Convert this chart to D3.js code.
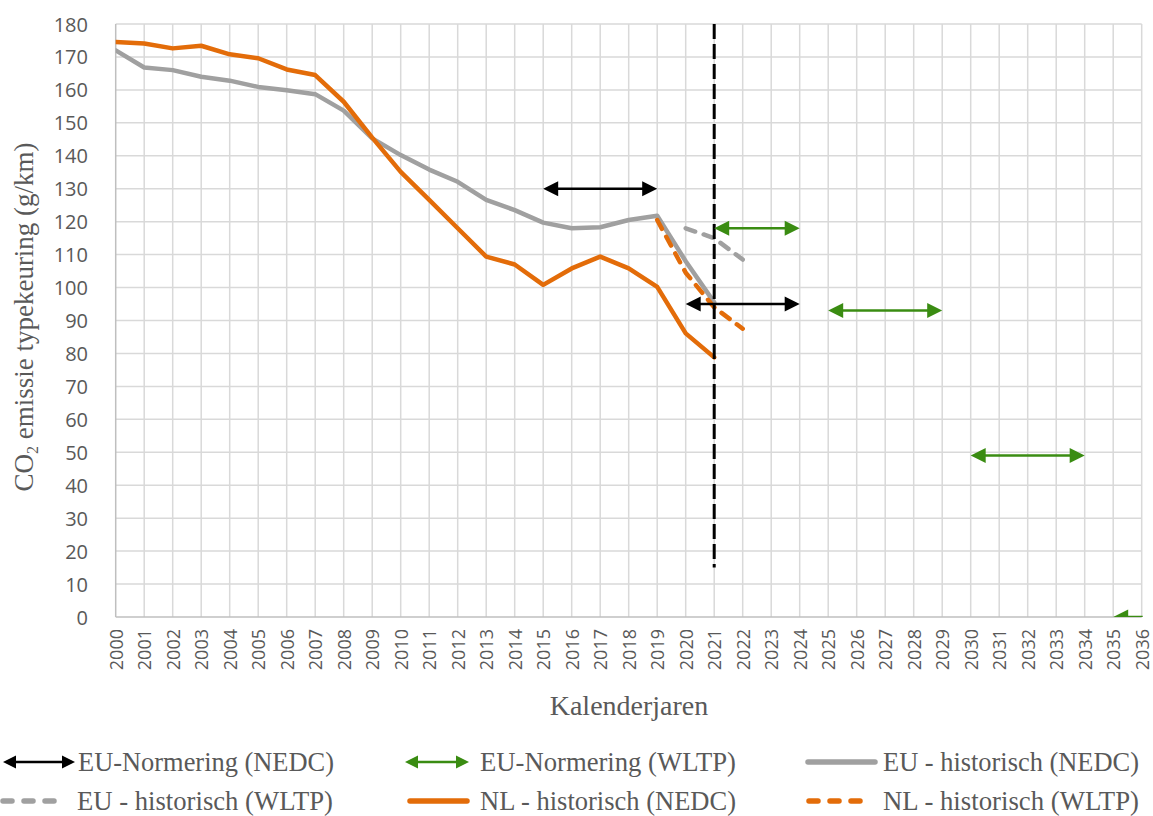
<!DOCTYPE html>
<html>
<head>
<meta charset="utf-8">
<script src="https://cdn.jsdelivr.net/npm/d3@7"></script>
<style>
html,body{margin:0;padding:0;background:#fff;}
svg{display:block;}
</style>
</head>
<body>
<svg id="chart" width="1153" height="816"></svg>
<script>
// ---- data ----
const years = d3.range(2000, 2037);
const yTicks = d3.range(0, 181, 10);

const euNedcYears = d3.range(2000, 2022);
const euNedc = [172, 166.8, 166, 164, 162.8, 160.9, 159.9, 158.7, 153.7, 145.3, 140.2, 135.8, 132.1, 126.6, 123.5, 119.7, 118.0, 118.3, 120.5, 121.8, 108, 95.5];

const nlNedcYears = d3.range(2000, 2022);
const nlNedc = [174.5, 174.1, 172.6, 173.4, 170.8, 169.6, 166.2, 164.5, 156.4, 145.5, 135.1, 126.6, 118.0, 109.4, 107.0, 100.8, 105.8, 109.4, 105.8, 100.2, 86.1, 78.8];

const euWltpYears = [2020, 2021, 2022];
const euWltp = [118, 115, 108.5];

const nlWltpYears = [2019, 2020, 2021, 2022];
const nlWltp = [120.5, 104.5, 94, 87.5];

// EU norms: [startYear, endYear, value]
const normNedcStart = [2015, 2020];
const normNedcEnd = [2019, 2024];
const normNedcValue = [130, 95];

const normWltpStart = [2021, 2025, 2030, 2035];
const normWltpEnd = [2024, 2029, 2034, 2039];
const normWltpValue = [118, 93, 49, 0];

const markerYear = 2021;
const markerRange = [15, 180];

const legendLabels = ["EU-Normering (NEDC)", "EU-Normering (WLTP)", "EU - historisch (NEDC)",
                      "EU - historisch (WLTP)", "NL - historisch (NEDC)", "NL - historisch (WLTP)"];
const yTitle = "emissie typekeuring (g/km)";
const xTitle = "Kalenderjaren";

// ---- styles ----
const cOrange = "#E36C09", cGray = "#A0A0A0", cGreen = "#3A8C12", cBlack = "#000", cText = "#595959", cGrid = "#D9D9D9";

const svg = d3.select("#chart");
const m = {left: 115.7, right: 1141.7, top: 24, bottom: 617};
const x = d3.scaleLinear().domain([2000, 2036]).range([m.left, m.right]);
const y = d3.scaleLinear().domain([0, 180]).range([m.bottom, m.top]);

svg.append("defs").append("clipPath").attr("id", "plotclip")
  .append("rect").attr("x", m.left).attr("y", m.top - 10).attr("width", m.right - m.left + 1).attr("height", m.bottom - m.top + 10);

// grid
const grid = svg.append("g");
grid.selectAll(".hg").data(yTicks.filter(d => d > 0)).join("line")
  .attr("x1", m.left).attr("x2", m.right).attr("y1", d => y(d)).attr("y2", d => y(d))
  .attr("stroke", cGrid).attr("stroke-width", 1.5);
grid.selectAll(".vg").data(years.filter(d => d > 2000)).join("line")
  .attr("x1", d => x(d)).attr("x2", d => x(d)).attr("y1", m.top).attr("y2", m.bottom)
  .attr("stroke", cGrid).attr("stroke-width", 1.5);

// axes lines
svg.append("line").attr("x1", m.left).attr("x2", m.left).attr("y1", m.top).attr("y2", m.bottom).attr("stroke", "#BFBFBF").attr("stroke-width", 1.5);
svg.append("line").attr("x1", m.left).attr("x2", m.right).attr("y1", m.bottom).attr("y2", m.bottom).attr("stroke", "#BFBFBF").attr("stroke-width", 1.5);

// y ticks
const yAxis = d3.axisLeft(y).tickValues(yTicks).tickSize(0).tickPadding(0);
const ya = svg.append("g").attr("transform", `translate(88,0)`).call(yAxis);
ya.select(".domain").remove();
ya.selectAll("text").attr("font-family", "'Open Sans', sans-serif").attr("font-size", 20).attr("fill", cText).attr("dy", "0.35em");

// x ticks
const xAxis = d3.axisBottom(x).tickValues(years).tickFormat(d3.format("d")).tickSize(0).tickPadding(0);
const xa = svg.append("g").attr("transform", `translate(0,${m.bottom})`).call(xAxis);
xa.select(".domain").remove();
xa.selectAll("text")
  .attr("font-family", "'Open Sans', sans-serif").attr("font-size", 18).attr("fill", cText)
  .attr("text-anchor", "end").attr("transform", "rotate(-90)")
  .attr("x", -12).attr("y", 0).attr("dy", "0.35em");

// titles
const yt = svg.append("text").attr("transform", "translate(33,317) rotate(-90)")
  .attr("text-anchor", "middle").attr("font-family", "'Liberation Serif', serif").attr("font-size", 27).attr("fill", cText);
yt.append("tspan").text("CO");
yt.append("tspan").attr("font-size", 16).attr("dy", 5).text("2");
yt.append("tspan").attr("dy", -5).text(" " + yTitle);

svg.append("text").attr("x", 629).attr("y", 715).attr("text-anchor", "middle")
  .attr("font-family", "'Liberation Serif', serif").attr("font-size", 28).attr("fill", cText).text(xTitle);

// plot content
const plot = svg.append("g").attr("clip-path", "url(#plotclip)");
const line = d3.line().x(d => x(d[0])).y(d => y(d[1]));

function drawSeries(ys, vs, color, dash) {
  plot.append("path").datum(ys.map((yr, i) => [yr, vs[i]]))
    .attr("d", line).attr("fill", "none").attr("stroke", color).attr("stroke-width", 4.5)
    .attr("stroke-linejoin", "round").attr("stroke-linecap", "round")
    .attr("stroke-dasharray", dash || null);
}
drawSeries(euNedcYears, euNedc, cGray, null);
drawSeries(nlNedcYears, nlNedc, cOrange, null);
drawSeries(euWltpYears, euWltp, cGray, "10,9");
drawSeries(nlWltpYears, nlWltp, cOrange, "10,9");

// vertical marker
plot.append("line").attr("x1", x(markerYear)).attr("x2", x(markerYear))
  .attr("y1", y(markerRange[1])).attr("y2", y(markerRange[0]))
  .attr("stroke", cBlack).attr("stroke-width", 3).attr("stroke-dasharray", "15,5");

function arrow(g, x1, x2, yy, color, hl, hw, sw) {
  g.append("line").attr("x1", x1 + hl - 1).attr("x2", x2 - hl + 1).attr("y1", yy).attr("y2", yy)
    .attr("stroke", color).attr("stroke-width", sw);
  g.append("path").attr("d", `M${x1},${yy} L${x1 + hl},${yy - hw} L${x1 + hl},${yy + hw} Z`).attr("fill", color);
  g.append("path").attr("d", `M${x2},${yy} L${x2 - hl},${yy - hw} L${x2 - hl},${yy + hw} Z`).attr("fill", color);
}
normNedcStart.forEach((s, i) => arrow(plot, x(s), x(normNedcEnd[i]), y(normNedcValue[i]), cBlack, 15, 7.5, 2.5));
normWltpStart.forEach((s, i) => arrow(plot, x(s), x(normWltpEnd[i]), y(normWltpValue[i]), cGreen, 15, 7.5, 2.5));

// legend
const lg = svg.append("g");
const lfont = "'Liberation Serif', serif";
const legendItems = [
  {lx: 3, rx: 75, ty: 762, tx: 78, type: "arrow", color: cBlack},
  {lx: 405, rx: 469, ty: 762, tx: 480, type: "arrow", color: cGreen},
  {lx: 805, rx: 878, ty: 762, tx: 883, type: "line", color: cGray},
  {lx: 0, rx: 68, ty: 801, tx: 77, type: "dash", color: cGray},
  {lx: 407, rx: 470, ty: 801, tx: 480, type: "line", color: cOrange},
  {lx: 806, rx: 866, ty: 801, tx: 883, type: "dash", color: cOrange}
];
legendItems.forEach((it, i) => {
  if (it.type === "arrow") {
    arrow(lg, it.lx, it.rx, it.ty, it.color, 13, 6.5, 2.5);
  } else {
    lg.append("line").attr("x1", it.lx + 3).attr("x2", it.rx - 3).attr("y1", it.ty).attr("y2", it.ty)
      .attr("stroke", it.color).attr("stroke-width", 5.5).attr("stroke-linecap", "round")
      .attr("stroke-dasharray", it.type === "dash" ? "9,12" : null);
  }
  lg.append("text").attr("x", it.tx).attr("y", it.ty + 9)
    .attr("font-family", lfont).attr("font-size", 27).attr("fill", cText)
    .attr("textLength", 256).attr("lengthAdjust", "spacingAndGlyphs")
    .text(legendLabels[i]);
});
</script>
</body>
</html>
